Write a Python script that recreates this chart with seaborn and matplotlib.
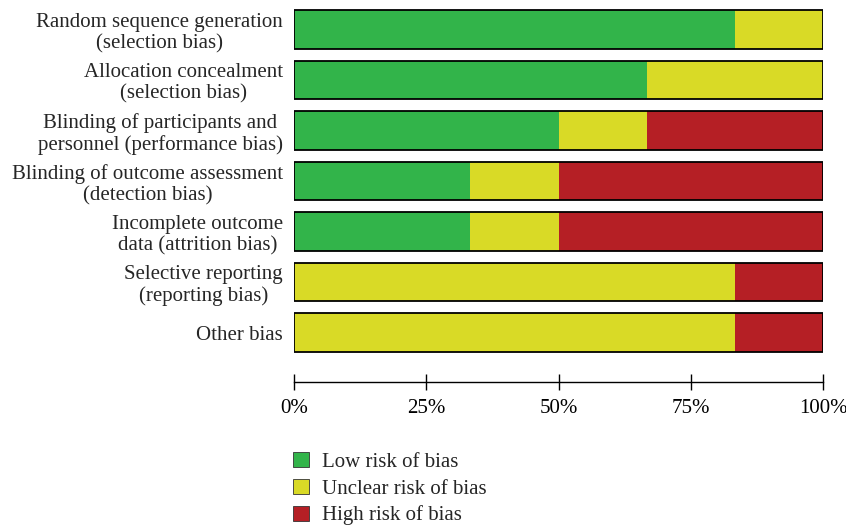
import matplotlib
matplotlib.use("Agg")
import matplotlib.pyplot as plt
from matplotlib.patches import Patch
import numpy as np
import pandas as pd
import seaborn as sns

domains = [
    "Random sequence generation\n(selection bias)",
    "Allocation concealment\n(selection bias)",
    "Blinding of participants and\npersonnel (performance bias)",
    "Blinding of outcome assessment\n(detection bias)",
    "Incomplete outcome\ndata (attrition bias)",
    "Selective reporting\n(reporting bias)",
    "Other bias",
]
low_risk = [83.33, 66.67, 50.0, 33.33, 33.33, 0.0, 0.0]
unclear_risk = [16.67, 33.33, 16.67, 16.67, 16.67, 83.33, 83.33]
high_risk = [0.0, 0.0, 33.33, 50.0, 50.0, 16.67, 16.67]
legend_labels = ["Low risk of bias", "Unclear risk of bias", "High risk of bias"]
tick_values = [0, 25, 50, 75, 100]
tick_labels = ["0%", "25%", "50%", "75%", "100%"]

colors = {"low": "#32b44a", "unclear": "#d9da26", "high": "#b51f25"}
FS = 15

sns.set_style("white")
plt.rcParams["font.family"] = ["Liberation Serif", "DejaVu Serif"]

df = pd.DataFrame({"domain": domains, "low": low_risk,
                   "unclear": unclear_risk, "high": high_risk})
df["cum_low"] = df["low"]
df["cum_unclear"] = df["low"] + df["unclear"]
df["cum_high"] = df["cum_unclear"] + df["high"]

fig = plt.figure(figsize=(8.46, 5.26), dpi=100)
ax = fig.add_axes([294 / 846, 1 - 358 / 526, 529 / 846, 354 / 526])

bar_w = 0.76
# stacked bars drawn back to front from cumulative totals
for col, key in [("cum_high", "high"), ("cum_unclear", "unclear"), ("cum_low", "low")]:
    sns.barplot(data=df, x=col, y="domain", orient="h", color=colors[key],
                saturation=1, width=bar_w, linewidth=0, ax=ax)
# black outline around each full bar
sns.barplot(data=df, x="cum_high", y="domain", orient="h", width=bar_w,
            facecolor="none", edgecolor="black", linewidth=1.3, ax=ax)

ax.set_xlim(0, 100)
ax.set_ylim(6.5, -0.5)
ax.set_xlabel("")
ax.set_ylabel("")
ax.set_xticks(tick_values, tick_labels)
ax.tick_params(axis="x", bottom=True, direction="inout", length=12, width=1.0,
               pad=6, colors="black", labelsize=FS)
ax.tick_params(axis="y", left=False, length=0, pad=8, labelsize=FS)
for lab in ax.get_yticklabels():
    lab.set_horizontalalignment("right")
    lab.set_multialignment("center")
    lab.set_linespacing(1.15)
for s in ["top", "right", "left"]:
    ax.spines[s].set_visible(False)
ax.spines["bottom"].set_position(("outward", 17.5))
ax.spines["bottom"].set_linewidth(1.0)
ax.spines["bottom"].set_color("black")

handles = [Patch(facecolor=colors[k], edgecolor="#333333", linewidth=0.6)
           for k in ["low", "unclear", "high"]]
fig.legend(handles, legend_labels, loc="upper left",
           bbox_to_anchor=(293 / 846, 1 - 452 / 526), frameon=False,
           fontsize=FS, handlelength=0.75, handleheight=0.75,
           handletextpad=0.65, labelspacing=0.33, borderaxespad=0,
           borderpad=0)

fig.savefig("out.png", dpi=100)
